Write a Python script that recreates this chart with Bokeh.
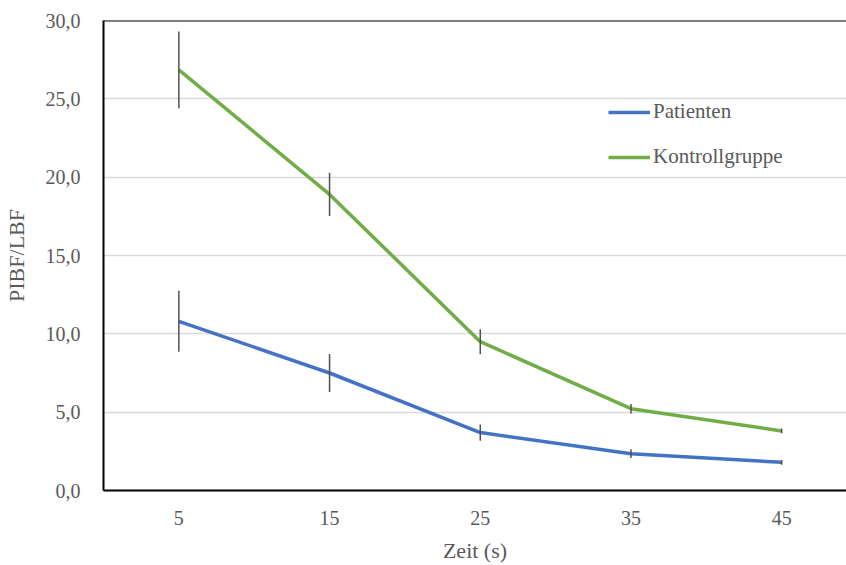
from bokeh.plotting import figure
from bokeh.models import Legend, LegendItem, Span, FixedTicker, Range1d, ColumnDataSource
from bokeh.embed import file_html
from bokeh.resources import INLINE

# Data
zeit = [5, 15, 25, 35, 45]
x_labels = {5: "5", 15: "15", 25: "25", 35: "35", 45: "45"}
patienten = [10.8, 7.5, 3.7, 2.35, 1.8]
patienten_err = [1.95, 1.22, 0.52, 0.28, 0.15]
kontroll = [26.85, 18.9, 9.5, 5.22, 3.8]
kontroll_err = [2.45, 1.38, 0.8, 0.3, 0.15]
y_ticks = [0, 5, 10, 15, 20, 25, 30]

FONT = "Liberation Serif"
TXT = "#595959"

p = figure(width=846, height=565, output_backend="svg", toolbar_location=None,
           x_range=Range1d(0, 49.3), y_range=Range1d(0, 30),
           min_border_left=103, min_border_right=0, min_border_top=20, min_border_bottom=75)
p.outline_line_color = None
p.background_fill_color = "white"
p.border_fill_color = "white"

p.xgrid.grid_line_color = None
p.ygrid.grid_line_color = "#d9d9d9"
p.ygrid.grid_line_width = 1.5
p.ygrid.ticker = FixedTicker(ticks=y_ticks)

p.yaxis.ticker = FixedTicker(ticks=y_ticks)
p.yaxis.major_label_overrides = {t: f"{t:.1f}".replace(".", ",") for t in y_ticks}
p.xaxis.ticker = FixedTicker(ticks=zeit)
p.xaxis.major_label_overrides = x_labels

for ax in (p.xaxis[0], p.yaxis[0]):
    ax.axis_line_color = "black"
    ax.axis_line_width = 2
    ax.major_tick_line_color = None
    ax.minor_tick_line_color = None
    ax.major_label_text_font = FONT
    ax.major_label_text_font_size = "20px"
    ax.major_label_text_color = TXT
    ax.axis_label_text_font = FONT
    ax.axis_label_text_font_size = "22px"
    ax.axis_label_text_font_style = "normal"
    ax.axis_label_text_color = TXT

p.yaxis.axis_label = "PIBF/LBF"
p.xaxis.axis_label = "Zeit (s)"
p.yaxis.major_label_standoff = 17
p.yaxis.axis_label_standoff = 14
p.xaxis.major_label_standoff = 14
p.xaxis.axis_label_standoff = 10

p.add_layout(Span(location=30, dimension="width", line_color="black", line_width=2))

src = ColumnDataSource(dict(
    x=zeit, p=patienten, k=kontroll,
    p_lo=[v - e for v, e in zip(patienten, patienten_err)],
    p_hi=[v + e for v, e in zip(patienten, patienten_err)],
    k_lo=[v - e for v, e in zip(kontroll, kontroll_err)],
    k_hi=[v + e for v, e in zip(kontroll, kontroll_err)],
))

r_p = p.line("x", "p", source=src, line_color="#4472C4", line_width=3.5)
r_k = p.line("x", "k", source=src, line_color="#70AD47", line_width=3.5)
p.segment(x0="x", y0="p_lo", x1="x", y1="p_hi", source=src, line_color="#505050", line_width=1.5)
p.segment(x0="x", y0="k_lo", x1="x", y1="k_hi", source=src, line_color="#505050", line_width=1.5)

legend = Legend(items=[LegendItem(label="Patienten", renderers=[r_p]),
                       LegendItem(label="Kontrollgruppe", renderers=[r_k])],
                location=(505, 321))
legend.background_fill_alpha = 0
legend.border_line_color = None
legend.label_text_font = FONT
legend.label_text_font_size = "21px"
legend.label_text_color = TXT
legend.label_height = 24
legend.glyph_width = 42
legend.glyph_height = 24
legend.label_standoff = 3
legend.spacing = 20
legend.padding = 5
legend.margin = 0
p.add_layout(legend)

open("out.html", "w").write(file_html(p, INLINE))
